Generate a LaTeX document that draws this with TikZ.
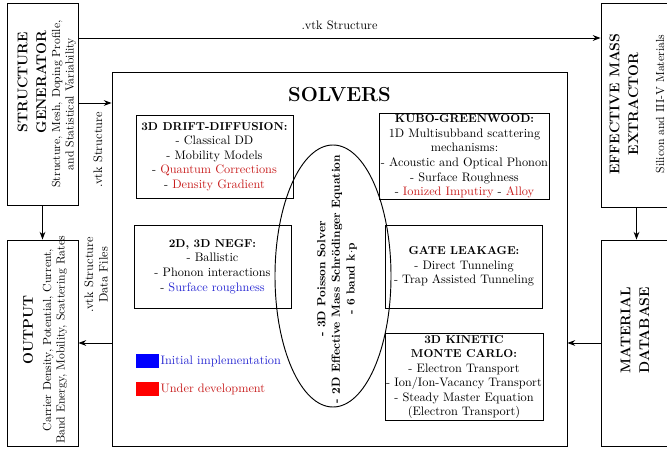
\documentclass[tikz,border=0pt]{standalone}
\usepackage{tikz}
\usetikzlibrary{positioning, arrows.meta, shapes.geometric}
\usepackage{xcolor}
\definecolor{devred}{RGB}{200, 30, 30}
\definecolor{initblue}{RGB}{40, 40, 210}
\newcommand{\solvtitle}[1]{{\fontsize{9.8}{12.4}\selectfont\bfseries #1}}

\begin{document}
\begin{tikzpicture}[x=0.03cm, y=-0.03cm, >=Stealth,
    font=\fontsize{10.5}{12.4}\selectfont,
    box/.style={draw, thick, inner sep=0pt},
    solverbox/.style={draw, thick, minimum width=4.71cm, minimum height=2.49cm, align=center, inner sep=1pt},
    sidetitle/.style={rotate=90, align=center, font=\large\bfseries},
    sidenote/.style={rotate=90, align=center, font=\fontsize{10}{11.5}\selectfont},
    conn/.style={->, thick}]
  \clip (0,0) rectangle (667,450);

  % Outer boxes
  \node[box, minimum width=2.13cm, minimum height=6.06cm] (gen) at (42.5,104) {};
  \node[box, minimum width=2.13cm, minimum height=6.18cm] (output) at (42.5,343) {};
  \node[box, minimum width=2.13cm, minimum height=6.12cm] (extractor) at (636.5,105) {};
  \node[box, minimum width=2.13cm, minimum height=6.18cm] (matdb) at (636.5,343) {};
  \node[box, minimum width=13.65cm, minimum height=11.22cm] (solvers) at (339.5,259) {};

  % Texts of the outer boxes
  \node[sidetitle] (gentitle) at (32,82) {STRUCTURE\\[2pt]GENERATOR};
  \node[sidenote] (gennote) at (64,104) {Structure, Mesh, Doping Profile,\\and Statistical Variability};
  \node[sidetitle] (outtitle) at (28,330) {OUTPUT};
  \node[sidenote] (outnote) at (55,340) {Carrier Density, Potential, Current,\\Band Energy, Mobility, Scattering Rates};
  \node[sidetitle] (extitle) at (624,104) {EFFECTIVE MASS\\[2pt]EXTRACTOR};
  \node[sidenote] (exnote) at (660,104) {Silicon and III-V Materials};
  \node[sidetitle] (dbtitle) at (635,330) {MATERIAL\\[2pt]DATABASE};
  \node[font=\LARGE\bfseries] (soltitle) at (339.5,95) {SOLVERS};

  % Solvers
  \node[solverbox] (dd) at (214.5,156.5) {\solvtitle{3D DRIFT-DIFFUSION:}\\- Classical DD\\- Mobility Models\\
    - \textcolor{devred}{Quantum Corrections}\\- \textcolor{devred}{Density Gradient}};
  \node[solverbox] (kubo) at (464.5,156.5) {\solvtitle{KUBO-GREENWOOD:}\\1D Multisubband scattering\\mechanisms:\\
    - Acoustic and Optical Phonon\\- Surface Roughness\\- \textcolor{devred}{Ionized Imputiry} - \textcolor{devred}{Alloy}};
  \node[solverbox] (negf) at (212.5,266.5) {\solvtitle{2D, 3D NEGF:}\\- Ballistic\\- Phonon interactions\\
    - \textcolor{initblue}{Surface roughness}};
  \node[solverbox] (leak) at (464,266.5) {\solvtitle{GATE LEAKAGE:}\\- Direct Tunneling\\- Trap Assisted Tunneling};
  \node[solverbox, minimum height=2.6cm] (kmc) at (464,377) {\solvtitle{3D KINETIC}\\\solvtitle{MONTE CARLO:}\\
    - Electron Transport\\- Ion/Ion-Vacancy Transport\\- Steady Master Equation\\(Electron Transport)};

  % Poisson / Schroedinger core
  \node[draw, thick, ellipse, rotate=90, minimum width=7.86cm, minimum height=3.48cm, inner sep=0pt] (core) at (333,276) {};
  \node[rotate=90, align=center, font=\fontsize{10}{12.5}\selectfont\bfseries] (coretext) at (337,279)
    {- 3D Poisson Solver\\- 2D Effective Mass Schr\"odinger Equation\\- 6 band k$\cdot$p};

  % Legend
  \node[fill=blue, minimum width=0.69cm, minimum height=0.42cm, inner sep=0pt] (blueleg) at (147.5,361) {};
  \node[right=0pt of blueleg, initblue, inner sep=1pt] (bluetext) {Initial implementation};
  \node[fill=red, minimum width=0.69cm, minimum height=0.42cm, inner sep=0pt] (redleg) at (147.5,389) {};
  \node[right=0pt of redleg, devred, inner sep=1pt] (redtext) {Under development};

  % Connectors
  \draw[conn] (gen.east |- 0,38) -- node[above=3pt] (vtkmain) {.vtk Structure} (extractor.west |- 0,38);
  \draw[conn] (gen.east |- 0,103) -- (solvers.west |- 0,103);
  \node[rotate=90] (vtkin) at (98,150) {.vtk Structure};
  \draw[conn] (gen.south) -- (output.north);
  \draw[conn] (solvers.west |- 0,343) -- (output.east |- 0,343);
  \node[rotate=90, align=center] (vtkout) at (96,275) {.vtk Structure\\Data Files};
  \draw[conn] (extractor.south) -- (matdb.north);
  \draw[conn] (matdb.west |- 0,343) -- (solvers.east |- 0,343);
\end{tikzpicture}
\end{document}
